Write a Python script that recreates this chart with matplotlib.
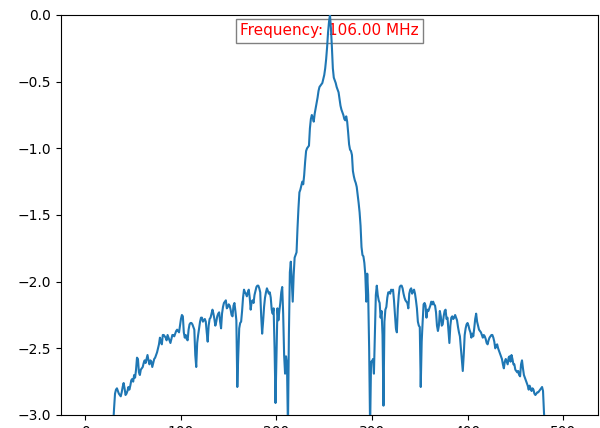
import numpy as np
import matplotlib
matplotlib.use("Agg")
import matplotlib.pyplot as plt

# Normalised beam pattern (log scale) across 512 steering bins
pattern = [
    -3.62, -3.58, -3.55, -3.51, -3.48, -3.45, -3.42, -3.40, -3.37, -3.35,
    -3.33, -3.31, -3.29, -3.27, -3.26, -3.24, -3.23, -3.22, -3.21, -3.20,
    -3.19, -3.18, -3.17, -3.16, -3.15, -3.14, -3.13, -3.12, -3.11, -3.08,
    -2.95, -2.84, -2.81, -2.80, -2.82, -2.84, -2.85, -2.86, -2.83, -2.79,
    -2.76, -2.80, -2.85, -2.84, -2.82, -2.79, -2.81, -2.78, -2.74, -2.73,
    -2.75, -2.70, -2.72, -2.66, -2.57, -2.58, -2.68, -2.70, -2.66, -2.65,
    -2.64, -2.61, -2.59, -2.61, -2.58, -2.55, -2.59, -2.62, -2.59, -2.60,
    -2.64, -2.61, -2.58, -2.57, -2.55, -2.53, -2.50, -2.47, -2.42, -2.45,
    -2.47, -2.40, -2.40, -2.41, -2.42, -2.44, -2.40, -2.42, -2.44, -2.46,
    -2.43, -2.40, -2.40, -2.41, -2.39, -2.37, -2.36, -2.37, -2.38, -2.33,
    -2.28, -2.25, -2.26, -2.38, -2.42, -2.40, -2.43, -2.44, -2.36, -2.32,
    -2.31, -2.31, -2.32, -2.34, -2.36, -2.55, -2.64, -2.46, -2.40, -2.35,
    -2.30, -2.27, -2.27, -2.30, -2.29, -2.28, -2.30, -2.38, -2.45, -2.33,
    -2.28, -2.27, -2.24, -2.21, -2.24, -2.28, -2.33, -2.30, -2.26, -2.24,
    -2.23, -2.30, -2.35, -2.24, -2.19, -2.16, -2.15, -2.14, -2.20, -2.19,
    -2.17, -2.18, -2.21, -2.25, -2.26, -2.18, -2.16, -2.22, -2.29, -2.79,
    -2.55, -2.35, -2.31, -2.30, -2.22, -2.12, -2.06, -2.08, -2.09, -2.11,
    -2.08, -2.06, -2.12, -2.21, -2.15, -2.14, -2.16, -2.10, -2.07, -2.04,
    -2.03, -2.03, -2.05, -2.08, -2.26, -2.39, -2.30, -2.19, -2.12, -2.08,
    -2.05, -2.07, -2.09, -2.08, -2.12, -2.21, -2.24, -2.20, -2.50, -2.91,
    -2.54, -2.20, -2.29, -2.22, -2.16, -2.08, -2.04, -2.24, -2.55, -2.69,
    -2.56, -2.62, -3.10, -2.40, -1.93, -1.85, -2.00, -2.15, -1.95, -1.82,
    -1.80, -1.78, -1.60, -1.45, -1.33, -1.31, -1.28, -1.25, -1.27, -1.20,
    -1.10, -1.02, -1.00, -0.99, -0.98, -0.85, -0.78, -0.75, -0.77, -0.80,
    -0.74, -0.70, -0.66, -0.62, -0.57, -0.54, -0.53, -0.52, -0.51, -0.48,
    -0.45, -0.40, -0.33, -0.24, -0.13, -0.05, 0.00, -0.10, -0.24, -0.40,
    -0.47, -0.49, -0.51, -0.54, -0.56, -0.58, -0.63, -0.68, -0.71, -0.73,
    -0.75, -0.78, -0.79, -0.76, -0.80, -0.88, -0.97, -1.01, -1.02, -1.05,
    -1.17, -1.21, -1.24, -1.26, -1.29, -1.35, -1.41, -1.48, -1.58, -1.74,
    -1.80, -1.81, -1.86, -1.95, -2.15, -1.94, -2.10, -2.50, -3.10, -2.60,
    -2.60, -2.58, -2.69, -2.40, -2.10, -2.03, -2.10, -2.14, -2.16, -2.27,
    -2.22, -2.40, -2.93, -2.30, -2.21, -2.19, -2.12, -2.08, -2.08, -2.09,
    -2.06, -2.07, -2.06, -2.14, -2.24, -2.35, -2.38, -2.20, -2.10, -2.04,
    -2.03, -2.03, -2.05, -2.09, -2.12, -2.14, -2.15, -2.16, -2.20, -2.09,
    -2.06, -2.05, -2.09, -2.07, -2.06, -2.09, -2.14, -2.20, -2.30, -2.33,
    -2.34, -2.79, -2.45, -2.30, -2.17, -2.16, -2.18, -2.27, -2.21, -2.22,
    -2.20, -2.18, -2.15, -2.17, -2.15, -2.17, -2.18, -2.23, -2.33, -2.37,
    -2.33, -2.22, -2.26, -2.33, -2.32, -2.26, -2.22, -2.21, -2.28, -2.27,
    -2.36, -2.46, -2.33, -2.27, -2.26, -2.28, -2.27, -2.25, -2.27, -2.29,
    -2.34, -2.38, -2.41, -2.50, -2.60, -2.67, -2.55, -2.40, -2.35, -2.32,
    -2.31, -2.33, -2.36, -2.38, -2.42, -2.39, -2.41, -2.35, -2.28, -2.24,
    -2.30, -2.33, -2.36, -2.37, -2.38, -2.40, -2.42, -2.40, -2.41, -2.43,
    -2.46, -2.47, -2.44, -2.42, -2.41, -2.40, -2.40, -2.42, -2.45, -2.50,
    -2.48, -2.47, -2.50, -2.52, -2.54, -2.56, -2.58, -2.62, -2.65, -2.60,
    -2.58, -2.60, -2.62, -2.57, -2.56, -2.60, -2.55, -2.58, -2.62, -2.62,
    -2.66, -2.67, -2.68, -2.67, -2.70, -2.71, -2.62, -2.59, -2.65, -2.70,
    -2.72, -2.74, -2.76, -2.78, -2.81, -2.78, -2.80, -2.82, -2.80, -2.81,
    -2.84, -2.85, -2.84, -2.83, -2.83, -2.82, -2.81, -2.80, -2.79, -2.82,
    -2.98, -3.10, -3.12, -3.14, -3.16, -3.18, -3.20, -3.22, -3.24, -3.26,
    -3.28, -3.30, -3.32, -3.34, -3.36, -3.38, -3.41, -3.44, -3.47, -3.50,
    -3.53, -3.56, -3.59, -3.62, -3.65, -3.68, -3.71, -3.74, -3.77, -3.80,
    -3.83, -3.86,
]
freq_mhz = 106.0
y_limits = (-3.0, 0.0)

fig = plt.figure(figsize=(6.0, 4.28), dpi=100)
ax = fig.add_axes([61 / 600, 1 - 415 / 428, 537 / 600, 400 / 428])

ax.plot(np.arange(len(pattern)), pattern, color="#1f77b4", linewidth=1.5, zorder=4)
ax.set_ylim(*y_limits)

ax.text(0.5, 0.96, f"Frequency: {freq_mhz:.2f} MHz", transform=ax.transAxes,
        ha="center", va="center", color="red", fontsize=11, zorder=3,
        bbox=dict(facecolor="white", edgecolor="gray", boxstyle="square,pad=0.3"))

fig.savefig("out.png", dpi=100)
